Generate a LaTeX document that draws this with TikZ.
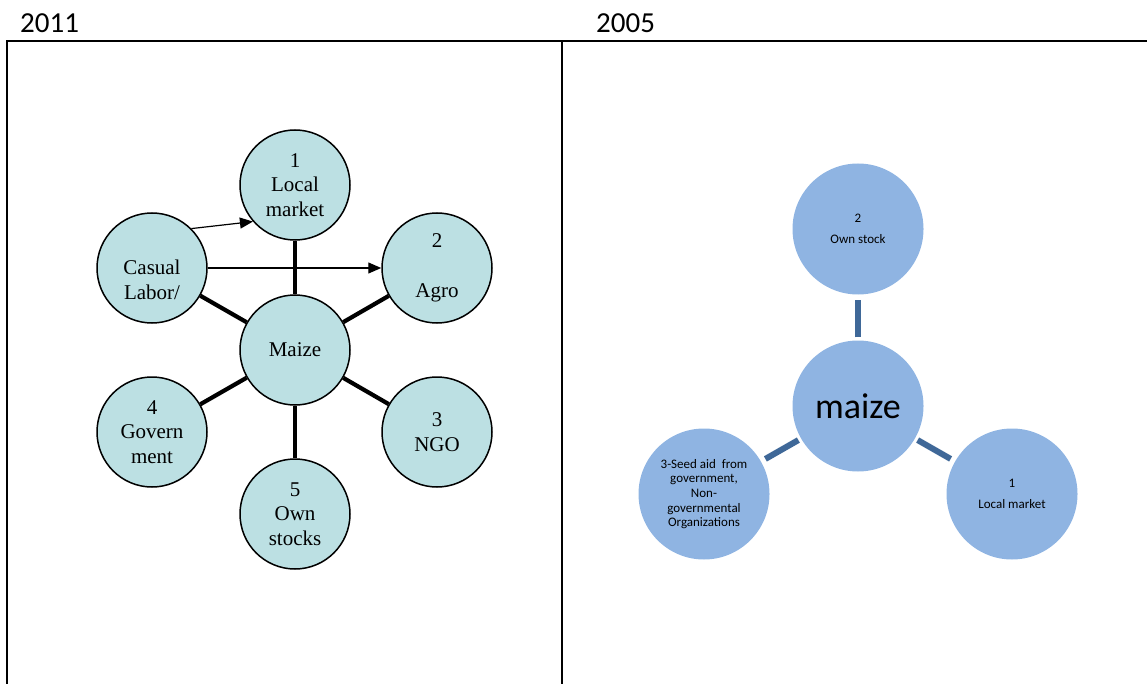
\documentclass[tikz,border=0pt]{standalone}
\usepackage{fontspec}
\setmainfont{Liberation Serif}
\newfontfamily\carl{Carlito}
\usetikzlibrary{arrows.meta}
\definecolor{leftfill}{HTML}{BCE0E3}
\definecolor{rightfill}{HTML}{8FB4E2}
\definecolor{rightline}{HTML}{3F6898}
\tikzset{
  lcirc/.style={circle, draw=black, line width=1.5pt, fill=leftfill, minimum size=110pt, inner sep=0pt, align=center, font=\fontsize{21}{24.5}\selectfont},
  ltxt/.style={inner sep=0pt, align=center, font=\fontsize{21}{24.5}\selectfont},
  thickedge/.style={line width=4.2pt, black},
  thinarrow/.style={line width=1.2pt, -{Triangle[length=13pt,width=11pt]}},
  rcirc/.style={circle, fill=rightfill, minimum size=131pt, inner sep=0pt, align=center, font=\carl\fontsize{13}{20.5}\selectfont},
  redge/.style={line width=6pt, rightline, shorten >=5pt, shorten <=3pt},
  frame/.style={line width=2pt, black},
  year/.style={inner sep=0pt, anchor=base west, font=\carl\fontsize{29}{32}\selectfont}
}
\begin{document}
\begin{tikzpicture}[x=1pt,y=-1pt]
\useasboundingbox (0,0) rectangle (1147,684);
% frame
\draw[frame] (7,684) -- (7,41) -- (1147,41);
\draw[frame] (562,41) -- (562,684);
\node[year] (y2011) at (20,33) {2011};
\node[year] (y2005) at (596,33) {2005};
% left diagram
\node[lcirc] (maize) at (295,350) {Maize};
\node[lcirc] (local) at (295,185) {1\\Local\\market};
\node[lcirc] (cas) at (152,268) {};
\node[ltxt] (castxt) at (152,280) {Casual\\Labor/};
\node[lcirc] (agro) at (437,268) {2\\[25pt]Agro};
\node[lcirc] (gov) at (152,432) {4\\Govern\\ment};
\node[lcirc] (ngo) at (437,432) {3\\NGO};
\node[lcirc] (own) at (295,514) {5\\Own\\stocks};
\foreach \n in {local,cas,agro,gov,ngo,own}{
  \draw[thickedge] (maize) -- (\n);
}
\draw[thinarrow] (cas.45) -- (local.221);
\draw[thinarrow] (cas.east) -- (agro.west);
% right diagram
\node[rcirc] (rmaize) at (858,406) {\fontsize{36}{40}\selectfont maize};
\node[rcirc] (rown) at (858,229) {2\\Own stock};
\node[rcirc, font=\carl\fontsize{13}{14.7}\selectfont] (rseed) at (704,494) {3-Seed aid\ \ from\\government,\\Non-\\governmental\\Organizations};
\node[rcirc] (rlocal) at (1012,494) {1\\Local market};
\draw[redge] (rmaize) -- (rown);
\draw[redge] (rmaize) -- (rseed);
\draw[redge] (rmaize) -- (rlocal);
\end{tikzpicture}
\end{document}
